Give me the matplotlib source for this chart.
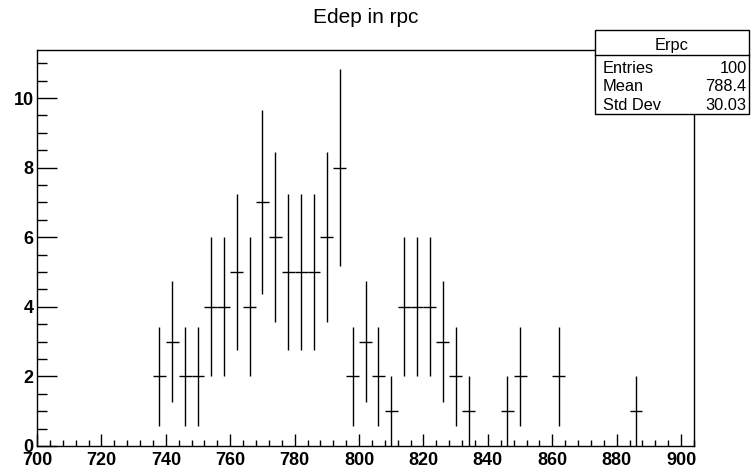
import numpy as np
import matplotlib
matplotlib.use("Agg")
import matplotlib.pyplot as plt
from matplotlib.ticker import MultipleLocator

# Data: bin centers (bin width 4) and counts
bin_centers = [738, 742, 746, 750, 754, 758, 762, 766, 770, 774, 778, 782, 786, 790, 794,
               798, 802, 806, 810, 814, 818, 822, 826, 830, 834, 846, 850, 862, 886]
counts = [2, 3, 2, 2, 4, 4, 5, 4, 7, 6, 5, 5, 5, 6, 8,
          2, 3, 2, 1, 4, 4, 4, 3, 2, 1, 1, 2, 2, 1]
bin_width = 4
title = "Edep in rpc"
stats_name = "Erpc"
stats_labels = ["Entries", "Mean", "Std Dev"]
stats_values = ["100", "788.4", "30.03"]
x_ticks = [700, 720, 740, 760, 780, 800, 820, 840, 860, 880, 900]
y_ticks = [0, 2, 4, 6, 8, 10]

W, H = 755, 472
fig = plt.figure(figsize=(W / 100, H / 100), dpi=100)
fam = ["Liberation Sans", "DejaVu Sans"]

l, r, t, b = 37, 694, 50, 446
ax = fig.add_axes([l / W, 1 - b / H, (r - l) / W, (b - t) / H])

x = np.array(bin_centers, dtype=float)
y = np.array(counts, dtype=float)
ax.errorbar(x, y, xerr=bin_width / 2, yerr=np.sqrt(y), fmt="none",
            ecolor="black", elinewidth=1.0, capsize=0)

ax.set_xlim(700, 904)
ax.set_ylim(0, 11.38)
ax.set_xticks(x_ticks)
ax.set_yticks(y_ticks)
ax.xaxis.set_minor_locator(MultipleLocator(4))
ax.yaxis.set_minor_locator(MultipleLocator(0.5))
ax.tick_params(axis="x", which="major", direction="in", length=8.3, width=1, pad=4)
ax.tick_params(axis="x", which="minor", direction="in", length=4.0, width=1)
ax.tick_params(axis="y", which="major", direction="in", length=14.2, width=1, pad=2.5)
ax.tick_params(axis="y", which="minor", direction="in", length=7.1, width=1)
ax.tick_params(top=False, right=False, which="both")
for lab in ax.get_xticklabels() + ax.get_yticklabels():
    lab.set_fontfamily(fam)
    lab.set_fontweight("bold")
    lab.set_fontsize(13)
for s in ax.spines.values():
    s.set_linewidth(1)

fig.text((l + r) / 2 / W, 1 - 22.7 / H, title, ha="center", va="baseline",
         fontsize=15, family=fam)

# Stats box
bx0, bx1, by0, by1, bh = 595, 749, 30, 114, 55
box = plt.Rectangle((bx0 / W, 1 - by1 / H), (bx1 - bx0) / W, (by1 - by0) / H,
                    transform=fig.transFigure, facecolor="white", edgecolor="black",
                    linewidth=1, zorder=5)
fig.patches.append(box)
fig.add_artist(plt.Line2D([bx0 / W, bx1 / W], [1 - bh / H, 1 - bh / H],
                          transform=fig.transFigure, color="black", linewidth=1, zorder=6))
fig.text((bx0 + bx1) / 2 / W, 1 - 49.7 / H, stats_name, ha="center",
         va="baseline", fontsize=11.8, family=fam, zorder=7)
baselines = [73, 91.3, 109.7]
for lab, val, bl in zip(stats_labels, stats_values, baselines):
    yy = 1 - bl / H
    fig.text(602.7 / W, yy, lab, ha="left", va="baseline", fontsize=11.8,
             family=fam, zorder=7)
    fig.text(746.7 / W, yy, val, ha="right", va="baseline", fontsize=11.8,
             family=fam, zorder=7)

fig.savefig("out.png", dpi=100)
